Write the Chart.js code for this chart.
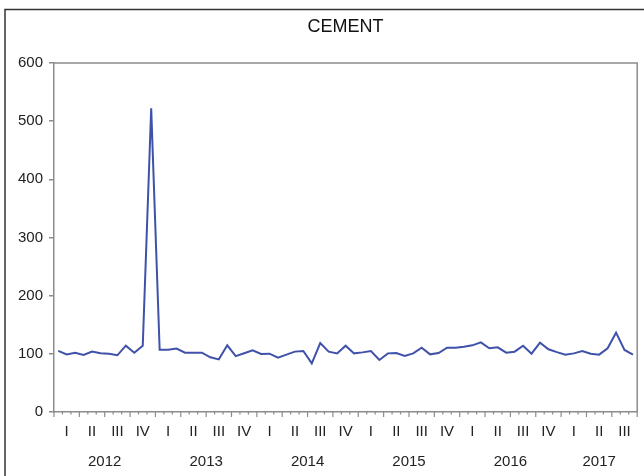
<!DOCTYPE html>
<html><head><meta charset="utf-8">
<script src="https://cdn.jsdelivr.net/npm/chart.js@4/dist/chart.umd.min.js"></script>
<style>html,body{margin:0;padding:0;background:#fff;overflow:hidden}</style>
</head><body>
<canvas id="c" width="644" height="476"></canvas>
<script>
const chartTitle = 'CEMENT';
const years = ['2012','2013','2014','2015','2016','2017'];
const quarterLabels = ['I','II','III','IV'];
const months = [
 '2012M01','2012M02','2012M03','2012M04','2012M05','2012M06','2012M07','2012M08','2012M09','2012M10','2012M11','2012M12',
 '2013M01','2013M02','2013M03','2013M04','2013M05','2013M06','2013M07','2013M08','2013M09','2013M10','2013M11','2013M12',
 '2014M01','2014M02','2014M03','2014M04','2014M05','2014M06','2014M07','2014M08','2014M09','2014M10','2014M11','2014M12',
 '2015M01','2015M02','2015M03','2015M04','2015M05','2015M06','2015M07','2015M08','2015M09','2015M10','2015M11','2015M12',
 '2016M01','2016M02','2016M03','2016M04','2016M05','2016M06','2016M07','2016M08','2016M09','2016M10','2016M11','2016M12',
 '2017M01','2017M02','2017M03','2017M04','2017M05','2017M06','2017M07','2017M08','2017M09'
];
const cement = [
 105, 99, 102, 98, 104, 101, 100, 97.5, 114, 102, 114, 522,
 107, 107, 109, 102, 102, 102, 94, 90.5, 114.6, 96, 101, 106,
 99.7, 100.3, 93.4, 98.6, 103.8, 104.9, 83.7, 118.6, 103.7, 100.8, 114, 100.8,
 102.5, 104.9, 89.4, 100.8, 101.4, 96.3, 100.8, 110.6, 99.1, 101.4, 110.6, 110.6,
 112.3, 114.6, 119.8, 109.5, 111.2, 102, 103.7, 114, 100.2, 119.2, 107.8, 103,
 98.6, 100.8, 104.9, 100.2, 98.6, 109.5, 136.4, 106.6, 98.6
];
const yMin = 0, yMax = 600, yStep = 100;

const FONT = "'Liberation Sans', Arial, sans-serif";
const AXIS = '#8c8c8c';

const decor = {
  id: 'decor',
  afterDraw(chart) {
    const ctx = chart.ctx, a = chart.chartArea, x = chart.scales.x;
    const slot = x.getPixelForValue(1) - x.getPixelForValue(0);
    ctx.save();
    // plot frame top & right
    ctx.strokeStyle = AXIS; ctx.lineWidth = 1.5;
    ctx.beginPath();
    ctx.moveTo(a.left, a.top); ctx.lineTo(a.right, a.top); ctx.lineTo(a.right, a.bottom);
    ctx.stroke();
    // month ticks
    ctx.lineWidth = 1.2;
    for (let i = 0; i <= months.length; i++) {
      const px = (i < months.length ? x.getPixelForValue(i) : x.getPixelForValue(months.length - 1) + slot) - slot / 2;
      const len = (i % 3 === 0) ? 5 : 2.5;
      ctx.beginPath(); ctx.moveTo(px, a.bottom); ctx.lineTo(px, a.bottom + len); ctx.stroke();
    }
    // year labels
    ctx.fillStyle = '#222';
    ctx.font = '15px ' + FONT;
    ctx.textAlign = 'center'; ctx.textBaseline = 'middle';
    years.forEach(y => {
      const idx = months.map((m, i) => m.startsWith(y) ? i : -1).filter(i => i >= 0);
      const l = x.getPixelForValue(idx[0]) - slot / 2;
      const r = x.getPixelForValue(idx[idx.length - 1]) + slot / 2;
      ctx.fillText(y, (l + r) / 2, 462);
    });
    // title
    ctx.font = '18px ' + FONT;
    ctx.fillStyle = '#111';
    ctx.fillText(chartTitle, (a.left + a.right) / 2, 27);
    // outer frame
    ctx.strokeStyle = '#333'; ctx.lineWidth = 1.5;
    ctx.beginPath(); ctx.moveTo(5, 476); ctx.lineTo(5, 9.5); ctx.lineTo(644, 9.5); ctx.stroke();
    ctx.restore();
  }
};

new Chart(document.getElementById('c'), {
  type: 'line',
  data: {
    labels: months,
    datasets: [{
      data: cement, borderColor: '#3f51a9', borderWidth: 2,
      pointRadius: 0, tension: 0, fill: false
    }]
  },
  options: {
    responsive: false, animation: false, devicePixelRatio: 1,
    layout: { padding: { top: 63, right: 5, left: 0, bottom: 0 } },
    plugins: { legend: { display: false }, tooltip: { enabled: false }, title: { display: false } },
    scales: {
      x: {
        type: 'category', offset: true,
        grid: { display: false, drawTicks: false },
        border: { display: true, color: AXIS, width: 1.5 },
        ticks: {
          autoSkip: false, maxRotation: 0, minRotation: 0, padding: 11,
          font: { family: FONT, size: 15 }, color: '#222',
          callback: (v, i) => (i % 3 === 1) ? quarterLabels[Math.floor(i / 3) % 4] : ''
        },
        afterFit: s => { s.height = 64; }
      },
      y: {
        min: yMin, max: yMax,
        ticks: { stepSize: yStep, padding: 6, font: { family: FONT, size: 15 }, color: '#222' },
        grid: { drawOnChartArea: false, drawTicks: true, tickLength: 5, color: AXIS, lineWidth: 1.5 },
        border: { color: AXIS, width: 1.5 },
        afterFit: s => { s.width = 54; }
      }
    }
  },
  plugins: [decor]
});
</script>
</body></html>
